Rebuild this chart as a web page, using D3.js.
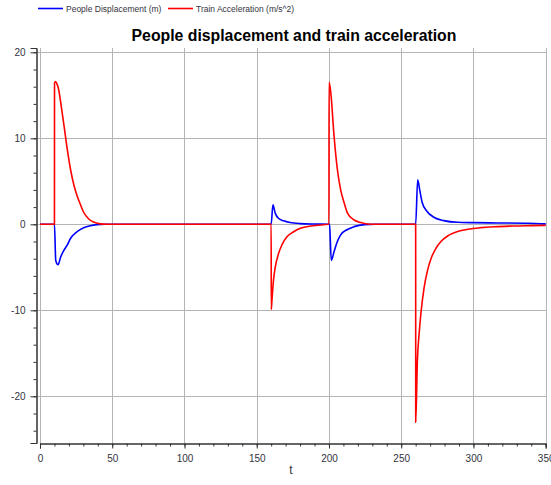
<!DOCTYPE html>
<html>
<head>
<meta charset="utf-8">
<script src="https://cdn.jsdelivr.net/npm/d3@7"></script>
<style>
  body { margin: 0; background: #fff; }
  text { font-family: "Liberation Sans", Arial, sans-serif; fill: #333340; }
</style>
</head>
<body>
<div id="chart"></div>
<script>
// People displacement (m)
const dispT = [0, 10, 10.9, 12.5, 14.3, 16.6, 18.9, 21.1, 25.7, 30.2, 34.8, 39.3, 45,
  160, 161.2, 162.8, 165, 168.6, 173, 180, 190, 200,
  200.4, 201.6, 203.5, 205.8, 208, 212.8, 217.4, 224.4, 232,
  260, 261.4, 262.8, 264.4, 267.9, 272.6, 279.5, 288.8, 300.5, 316.7, 337.7, 350]
const dispV = [0, 0, -4.2, -4.7, -3.8, -3.0, -2.4, -1.65, -0.86, -0.4, -0.16, -0.04, 0,
  0, 2.27, 1.3, 0.7, 0.4, 0.2, 0.08, 0.03, 0.01,
  0, -4.2, -3.2, -2.0, -1.25, -0.6, -0.27, -0.04, 0,
  0, 5.17, 4.0, 2.6, 1.48, 0.82, 0.43, 0.23, 0.19, 0.16, 0.12, 0.05]

// Train acceleration (m/s^2)
const accT = [0, 10, 10.05, 10.8, 11.8, 13, 14.3, 16.6, 18.9, 21.1, 23.4, 25.7, 28, 30.2, 33.6, 37, 41.6, 46,
  160, 160.05, 160.5, 161.6, 162.8, 165.1, 167.4, 170.9, 175.6, 180.2, 187.2, 194.2, 199.9,
  200, 200.05, 201.2, 203.5, 205.8, 208.1, 210.5, 212.8, 217.4, 222, 226.7, 232,
  260, 260.05, 261.2, 262.4, 263.6, 265.9, 268.3, 270.6, 274, 277.5, 282.1, 289, 296, 305, 317, 328, 340, 350]
const accV = [0, 0, 16.4, 16.6, 16.3, 15.6, 14.2, 11.5, 8.7, 6.4, 4.6, 3.3, 2.3, 1.4, 0.65, 0.26, 0.05, 0,
  0, -9.9, -8.9, -6.5, -5.0, -3.4, -2.4, -1.45, -0.86, -0.47, -0.2, -0.08, 0,
  0, 16.5, 15.4, 10.3, 6.4, 4.0, 2.5, 1.3, 0.5, 0.2, 0.04, 0,
  0, -23.0, -15.8, -12.7, -10.4, -7.3, -5.3, -4.0, -2.8, -2.0, -1.36, -0.85, -0.58, -0.39, -0.27, -0.19, -0.15, -0.12]

const xTicks = [0, 50, 100, 150, 200, 250, 300, 350]
const yTicks = [-20, -10, 0, 10, 20]
const seriesNames = ["People Displacement (m)", "Train Acceleration (m/s^2)"]
const seriesColors = ["#0000ff", "#ff0000"]

const width = 551, height = 485
const svg = d3.select("#chart").append("svg")
    .attr("width", width)
    .attr("height", height)

const x = d3.scaleLinear().domain([0, 350]).range([40, 545.7])
const y = d3.scaleLinear().domain([-25.43, 20.5]).range([443, 48])

// grid
svg.append("g").selectAll("line")
  .data(xTicks)
  .join("line")
  .attr("x1", d => Math.round(x(d)) + 0.5).attr("x2", d => Math.round(x(d)) + 0.5)
  .attr("y1", 48).attr("y2", 443)
  .attr("stroke", "#b4b4b4")
svg.append("g").selectAll("line")
  .data(yTicks)
  .join("line")
  .attr("y1", d => Math.round(y(d)) + 0.5).attr("y2", d => Math.round(y(d)) + 0.5)
  .attr("x1", 36).attr("x2", 546)
  .attr("stroke", "#b4b4b4")

// axes
const fmt = d => String(d)
const xAxis = d3.axisBottom(x).tickValues(d3.range(0, 351, 10)).tickSize(3).tickFormat("")
svg.append("g").attr("transform", "translate(0,443.5)").call(xAxis)
svg.append("g").attr("transform", "translate(0,443.5)")
  .call(d3.axisBottom(x).tickValues(xTicks).tickSize(5).tickPadding(6).tickFormat(fmt))
const yAxis = d3.axisLeft(y).tickValues(d3.range(-24, 21, 2)).tickSize(3).tickFormat("")
svg.append("g").attr("transform", "translate(36.5,0)").call(yAxis)
svg.append("g").attr("transform", "translate(36.5,0)")
  .call(d3.axisLeft(y).tickValues(yTicks).tickSize(6).tickPadding(5).tickFormat(fmt))

svg.selectAll(".domain").attr("stroke", "#333")
svg.selectAll(".tick line").attr("stroke", "#333")
svg.selectAll(".tick text").attr("font-size", 10).attr("fill", "#333340")
  .attr("font-family", "'DejaVu Sans', sans-serif")

// series
const line = d3.line().x(d => x(d[0])).y(d => y(d[1])).curve(d3.curveMonotoneX)
svg.append("path")
  .datum(d3.zip(dispT, dispV))
  .attr("d", line)
  .attr("fill", "none")
  .attr("stroke", seriesColors[0])
  .attr("stroke-width", 1.6)
svg.append("path")
  .datum(d3.zip(accT, accV))
  .attr("d", line)
  .attr("fill", "none")
  .attr("stroke", seriesColors[1])
  .attr("stroke-width", 1.6)

// legend
const legX = [38, 168]
seriesNames.forEach((name, i) => {
  svg.append("line")
    .attr("x1", legX[i]).attr("x2", legX[i] + 25)
    .attr("y1", 8.5).attr("y2", 8.5)
    .attr("stroke", seriesColors[i]).attr("stroke-width", 1.6)
  svg.append("text")
    .attr("x", legX[i] + 28).attr("y", 11.5)
    .attr("font-size", 8.5)
    .text(name)
})

// title and x label
svg.append("text")
  .attr("x", 294).attr("y", 41)
  .attr("text-anchor", "middle")
  .attr("font-size", 15.8)
  .attr("font-weight", "bold")
  .style("fill", "#000")
  .text("People displacement and train acceleration")
svg.append("text")
  .attr("x", 291).attr("y", 474)
  .attr("text-anchor", "middle")
  .attr("font-size", 12)
  .text("t")
</script>
</body>
</html>
